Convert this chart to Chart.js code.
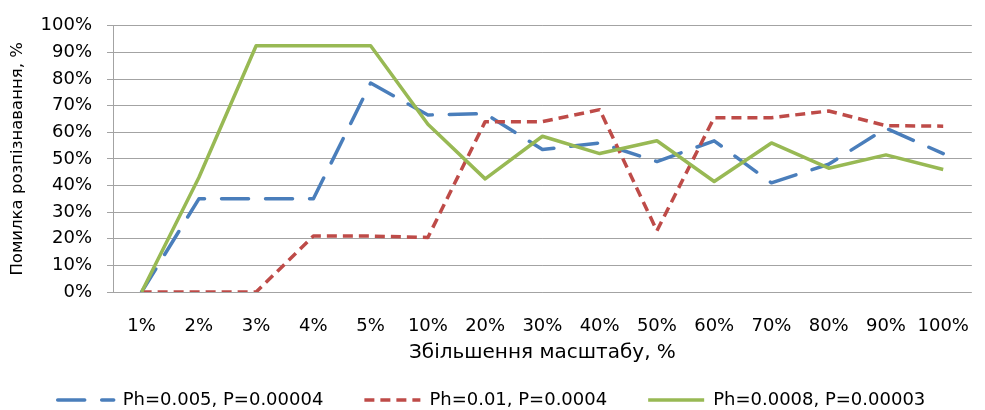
<!DOCTYPE html>
<html>
<head>
<meta charset="utf-8">
<script src="https://cdn.jsdelivr.net/npm/chart.js@4"></script>
<style>
  html, body { margin: 0; padding: 0; background: #fff; }
  #wrap { width: 985px; height: 410px; }
</style>
</head>
<body>
<div id="wrap"><canvas id="chart" width="985" height="410"></canvas></div>
<script>
// categories (scale increase)
const scaleLabels = ['1%', '2%', '3%', '4%', '5%', '10%', '20%', '30%', '40%', '50%', '60%', '70%', '80%', '90%', '100%'];

// recognition error, %
const seriesBlue  = [0, 35, 35, 35, 78.5, 66.5, 67, 53.5, 56, 49, 56.8, 41, 48, 61.5, 52];
const seriesRed   = [0, 0, 0, 21, 21, 20.5, 64, 64, 68.5, 23, 65.5, 65.5, 68, 62.5, 62.3];
const seriesGreen = [0, 43, 92.5, 92.5, 92.5, 63, 42.5, 58.5, 52, 56.8, 41.5, 56, 46.5, 51.5, 46];

const seriesNames = ['Ph=0.005, P=0.00004', 'Ph=0.01, P=0.0004', 'Ph=0.0008, P=0.00003'];

const yTicks = [0, 10, 20, 30, 40, 50, 60, 70, 80, 90, 100];

Chart.defaults.font.family = "'DejaVu Sans', sans-serif";
Chart.defaults.font.size = 18;
Chart.defaults.color = '#000';

// legend sits lower than the layout would put it (Excel style spacing)
const legendShift = {
    id: 'legendShift',
    afterLayout(chart) {
        const lg = chart.legend;
        const pad = lg.options.labels.padding;
        const fs = lg.options.labels.font.size;
        lg.top = 400 - pad - fs / 2;
        lg.bottom = lg.top + pad * 2 + fs + 10;
    }
};

const gridColor = '#a3a3a3';

new Chart(document.getElementById('chart'), {
    type: 'line',
    data: {
        labels: scaleLabels,
        datasets: [
            {
                label: seriesNames[0],
                data: seriesBlue,
                borderColor: '#4a7ebb',
                backgroundColor: '#4a7ebb',
                borderWidth: 3.5,
                borderDash: [27, 17],
                borderCapStyle: 'round',
                order: 3
            },
            {
                label: seriesNames[1],
                data: seriesRed,
                borderColor: '#be4b48',
                backgroundColor: '#be4b48',
                borderWidth: 3.5,
                borderDash: [10, 6],
                order: 2
            },
            {
                label: seriesNames[2],
                data: seriesGreen,
                borderColor: '#98b954',
                backgroundColor: '#98b954',
                borderWidth: 3.5,
                order: 1
            }
        ]
    },
    options: {
        responsive: false,
        animation: false,
        events: [],
        elements: {
            line: { tension: 0, borderJoinStyle: 'round', fill: false },
            point: { radius: 0 }
        },
        layout: { padding: { top: 21, right: 2, left: 0, bottom: 0 } },
        plugins: {
            tooltip: { enabled: false },
            legend: {
                position: 'bottom',
                maxHeight: 40,
                labels: {
                    usePointStyle: true,
                    pointStyle: 'line',
                    pointStyleWidth: 56,
                    padding: 41,
                    font: { size: 18 },
                    color: '#000',
                    sort: (a, b) => a.datasetIndex - b.datasetIndex,
                    generateLabels(chart) {
                        const items = Chart.defaults.plugins.legend.labels.generateLabels(chart);
                        items.forEach(item => {
                            const ds = chart.data.datasets[item.datasetIndex];
                            item.lineDash = ds.borderDash || [];
                            item.lineCap = ds.borderCapStyle || 'butt';
                            item.lineWidth = ds.borderWidth;
                            item.strokeStyle = ds.borderColor;
                        });
                        return items;
                    }
                }
            }
        },
        scales: {
            x: {
                type: 'category',
                offset: true,
                grid: { display: false },
                border: { display: false },
                ticks: { padding: 16, maxRotation: 0, autoSkip: false, font: { size: 18 } },
                title: {
                    display: true,
                    text: 'Збільшення масштабу, %',
                    font: { size: 20 },
                    padding: { top: 0, bottom: 5 }
                },
                afterFit(scale) { scale.height = 78; }
            },
            y: {
                min: 0,
                max: 100,
                afterBuildTicks(scale) { scale.ticks = yTicks.map(v => ({ value: v })); },
                grid: { color: gridColor, lineWidth: 1, tickLength: 6 },
                border: { display: true, color: gridColor, width: 1 },
                ticks: { padding: 15, callback: v => v + '%', font: { size: 18 } },
                title: {
                    display: true,
                    text: 'Помилка розпізнавання, %',
                    font: { size: 16.5 },
                    padding: { top: 8, bottom: 0 }
                },
                afterFit(scale) { scale.width = 113; }
            }
        }
    },
    plugins: [legendShift]
});
</script>
</body>
</html>
